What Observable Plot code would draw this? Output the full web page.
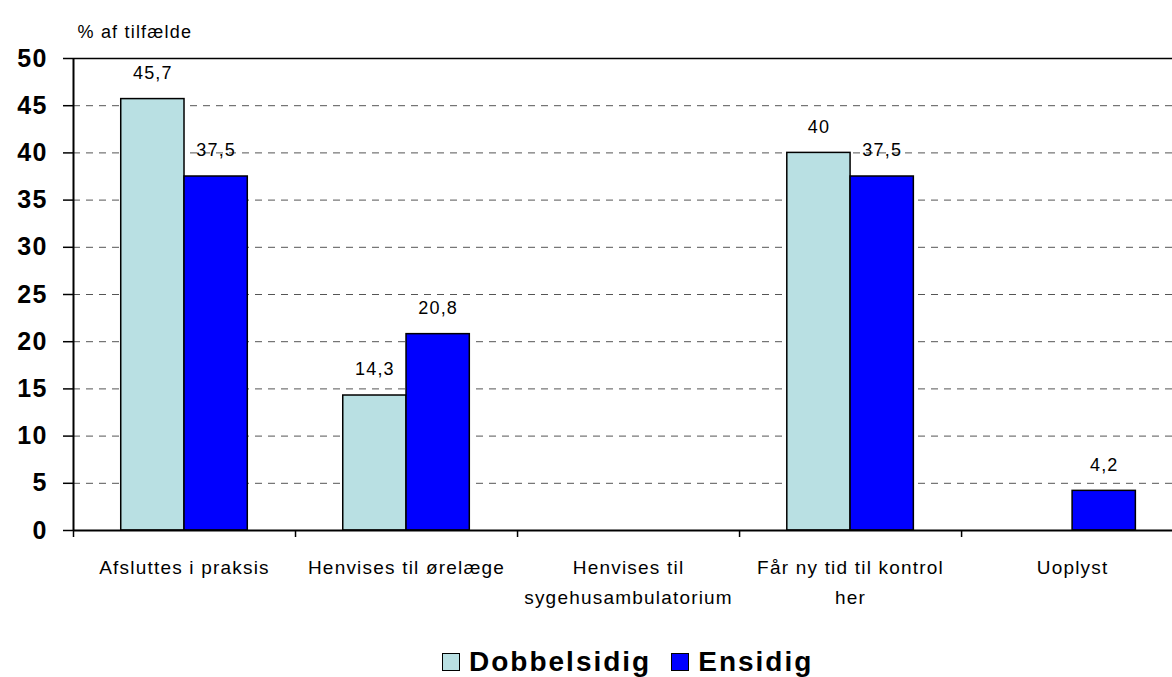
<!DOCTYPE html>
<html>
<head>
<meta charset="utf-8">
<script src="https://cdn.jsdelivr.net/npm/d3@7"></script>
<script src="https://cdn.jsdelivr.net/npm/@observablehq/plot@0.6"></script>
<style>
  html, body { margin: 0; padding: 0; background: #fff; overflow: hidden; width: 1172px; height: 677px; }
  #chart { position: relative; width: 1172px; height: 677px; font-family: "Liberation Sans", Arial, sans-serif; }
  #legend { position: absolute; left: 442px; top: 646px; display: flex; align-items: center; font-family: "Liberation Sans", Arial, sans-serif; font-weight: bold; font-size: 28px; letter-spacing: 2px; color: #000; }
  #legend .sw { width: 16px; height: 16px; border: 1.5px solid #000; display: inline-block; margin-right: 9px; }
  #legend .item { display: flex; align-items: center; margin-right: 20px; }
</style>
</head>
<body>
<div id="chart"></div>
<script>
const categories = ["Afsluttes i praksis", "Henvises til ørelæge", "Henvises til\nsygehusambulatorium", "Får ny tid til kontrol\nher", "Uoplyst"];
const series = ["Dobbelsidig", "Ensidig"];
const dobbelsidig = [45.7, 14.3, 0, 40, 0];
const ensidig = [37.5, 20.8, 0, 37.5, 4.2];
const colors = ["#B9E0E3", "#0000FF"];
const yTicks = [0, 5, 10, 15, 20, 25, 30, 35, 40, 45, 50];
const yLabel = "% af tilfælde";

const barW = 0.285;
const rows = [];
categories.forEach((c, i) => {
  [dobbelsidig, ensidig].forEach((vals, s) => {
    const x1 = i + 0.5 - (s === 0 ? barW : 0);
    rows.push({cat: c, i, series: series[s], s, value: vals[i], x1, x2: x1 + barW});
  });
});

const fmt = v => String(v).replace(".", ",");

const plot = Plot.plot({
  width: 1172,
  height: 640,
  marginLeft: 73,
  marginRight: 0,
  marginTop: 58,
  marginBottom: 110,
  style: {fontFamily: "Liberation Sans, Arial, sans-serif", letterSpacing: "1.2px", background: "white", color: "#000", overflow: "visible"},
  x: {type: "linear", domain: [0, 4.95]},
  y: {domain: [0, 50]},
  color: {domain: series, range: colors},
  marks: [
    Plot.ruleY(yTicks.filter(t => t > 0 && t < 50), {stroke: "#555", strokeWidth: 1, strokeDasharray: "7,6"}),
    Plot.ruleY([50], {stroke: "#000", strokeWidth: 1.5}),
    Plot.rectY(rows.filter(d => d.value > 0), {x1: "x1", x2: "x2", y1: 0, y2: "value", fill: "series", stroke: "#000", strokeWidth: 1.5}),
    Plot.ruleY([0], {stroke: "#000", strokeWidth: 2}),
    Plot.ruleX([0], {stroke: "#000", strokeWidth: 2}),
    Plot.axisY({ticks: yTicks, tickSize: 10, tickPadding: 16, fontSize: 25, fontWeight: "bold", label: null, tickFormat: d => String(d), strokeWidth: 1.5}),
    Plot.axisX({ticks: [0, 1, 2, 3, 4], tickSize: 7, tickFormat: () => "", label: null, strokeWidth: 1.5}),
    Plot.text(categories, {x: (d, i) => i + 0.5, y: 0, text: d => d, dy: 23, lineAnchor: "top", fontSize: 19, lineHeight: 1.55, fill: "#000"}),
    Plot.text(rows.filter(d => d.value > 0), {x: d => (d.x1 + d.x2) / 2, y: "value", text: d => fmt(d.value), dy: -26, fontSize: 18, fill: "#000"}),
    Plot.text([yLabel], {frameAnchor: "top-left", text: d => d, dx: 4, dy: -33, textAnchor: "start", fontSize: 18, fill: "#000"})
  ]
});
document.getElementById("chart").appendChild(plot);

const legend = document.createElement("div");
legend.id = "legend";
series.forEach((s, k) => {
  const item = document.createElement("div");
  item.className = "item";
  const sw = document.createElement("span");
  sw.className = "sw";
  sw.style.background = colors[k];
  const t = document.createElement("span");
  t.textContent = s;
  item.appendChild(sw);
  item.appendChild(t);
  legend.appendChild(item);
});
document.getElementById("chart").appendChild(legend);
</script>
</body>
</html>
